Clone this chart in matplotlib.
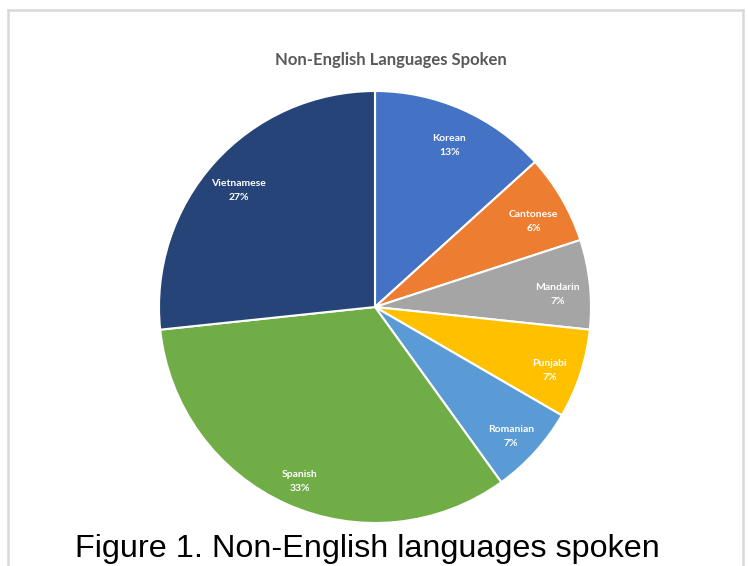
import numpy as np
import matplotlib
matplotlib.use("Agg")
import matplotlib.pyplot as plt
from matplotlib.lines import Line2D

# Data
languages = ["Korean", "Cantonese", "Mandarin", "Punjabi", "Romanian", "Spanish", "Vietnamese"]
shares = [13.3, 6.7, 6.7, 6.7, 6.7, 33.3, 26.7]
pct_labels = ["13%", "6%", "7%", "7%", "7%", "33%", "27%"]
colors = ["#4472C4", "#ED7D31", "#A5A5A5", "#FFC000", "#5B9BD5", "#70AD47", "#264478"]

W, H = 749, 566
fig = plt.figure(figsize=(W / 100, H / 100), dpi=100)
fig.patch.set_facecolor("white")

# Chart frame (light grey border)
def fx(px):
    return px / W

def fy(py):
    return 1 - py / H

border_kw = dict(color="#D9D9D9", linewidth=1.8, transform=fig.transFigure)
fig.add_artist(Line2D([fx(8), fx(8)], [fy(10), fy(570)], **border_kw))
fig.add_artist(Line2D([fx(8), fx(743)], [fy(10), fy(10)], **border_kw))
fig.add_artist(Line2D([fx(743), fx(743)], [fy(10), fy(570)], **border_kw))

# Pie axes
cx, cy, r = 375, 307, 216
ax = fig.add_axes([(cx - r) / W, (H - cy - r) / H, 2 * r / W, 2 * r / H])
wedges, _ = ax.pie(shares, colors=colors, startangle=90, counterclock=False,
                   radius=1.0,
                   wedgeprops=dict(edgecolor="white", linewidth=1.5))
ax.set_xlim(-1, 1)
ax.set_ylim(-1, 1)
ax.set_aspect("equal")
ax.axis("off")

label_r = 0.85
for w, name, pl in zip(wedges, languages, pct_labels):
    mid = np.deg2rad((w.theta1 + w.theta2) / 2)
    ax.text(label_r * np.cos(mid), label_r * np.sin(mid) - 0.03, f"{name}\n{pl}",
            ha="center", va="center", color="white", fontsize=7.5,
            family="Lato", fontweight="bold", linespacing=1.7)

# Title
fig.text(fx(391), fy(60), "Non-English Languages Spoken", ha="center", va="center",
         fontsize=12, family="Lato", fontweight="bold", color="#595959")

# Caption
fig.text(fx(367), fy(557), "Figure 1. Non-English languages spoken", ha="center",
         va="baseline", fontsize=23.3, family="Liberation Sans", color="black")

fig.savefig("out.png", dpi=100, facecolor="white")
